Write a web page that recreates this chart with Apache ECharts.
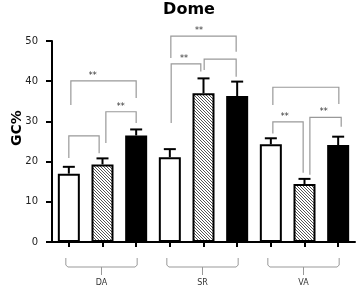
<!DOCTYPE html>
<html>
<head>
<meta charset="utf-8">
<script src="https://cdn.jsdelivr.net/npm/echarts@6/dist/echarts.min.js"></script>
<style>
html, body { margin: 0; padding: 0; background: #fff; }
#chart { width: 358px; height: 289px; }
</style>
</head>
<body>
<div id="chart"></div>
<script>
// data
var groups = ['DA', 'SR', 'VA'];
var categories = ['DA1', 'DA2', 'DA3', 'SR1', 'SR2', 'SR3', 'VA1', 'VA2', 'VA3'];
var means = [17.0, 19.3, 26.5, 21.1, 37.0, 36.3, 24.3, 14.4, 24.1];
var errors = [1.7, 1.5, 1.5, 2.0, 3.7, 3.6, 1.5, 1.3, 2.1];
var groupSpans = [[0, 2], [3, 5], [6, 8]];
// [from, to, top, left end, right end, stars x, stars]
var brackets = [
  [0.06, 2.0, 40.1, 34.1, 35.8, 0.71, '**'],
  [1.1, 2.0, 32.4, 24.6, 29.6, 1.54, '**'],
  [0.0, 0.9, 26.4, 20.9, 22.1, 0, ''],
  [3.03, 4.97, 51.2, 45.8, 47.3, 3.87, '**'],
  [3.04, 3.92, 44.3, 29.6, 42.4, 3.42, '**'],
  [4.02, 4.97, 45.5, 42.8, 41.1, 0, ''],
  [6.06, 8.02, 38.5, 34.1, 34.3, 0, ''],
  [6.06, 6.96, 29.9, 27.0, 17.2, 6.41, '**'],
  [7.16, 8.09, 31.0, 16.7, 28.7, 7.57, '**']
];

var font = 'DejaVu Sans';

// diagonal hatch for the middle bar of each group
var hatch = document.createElement('canvas');
hatch.width = 3;
hatch.height = 3;
var hc = hatch.getContext('2d');
hc.fillStyle = '#fff';
hc.fillRect(0, 0, 3, 3);
hc.strokeStyle = '#555';
hc.lineWidth = 1;
[-3, 0, 3].forEach(function (o) {
  hc.beginPath();
  hc.moveTo(o, 0);
  hc.lineTo(o + 3, 3);
  hc.stroke();
});

function barStyle(k) {
  if (k === 0) return { color: '#fff' };
  if (k === 1) return { color: { image: hatch, repeat: 'repeat' } };
  return { color: '#000' };
}

var chart = echarts.init(document.getElementById('chart'));

var option = {
  animation: false,
  grid: { left: 52, right: 3, top: 41, bottom: 47, outerBoundsMode: 'none' },
  graphic: [
    {
      type: 'text', x: 189, y: 10,
      style: { text: 'Dome', align: 'center', verticalAlign: 'middle', fontSize: 16, fontWeight: 'bold', fontFamily: font, fill: '#000' }
    },
    {
      type: 'text', x: 17, y: 128, rotation: Math.PI / 2,
      style: { text: 'GC%', align: 'center', verticalAlign: 'middle', fontSize: 14, fontWeight: 'bold', fontFamily: font, fill: '#000' }
    }
  ],
  xAxis: {
    type: 'category',
    data: categories,
    axisLine: { lineStyle: { color: '#000', width: 2 } },
    axisTick: { show: true, interval: 0, alignWithLabel: true, length: 5, lineStyle: { color: '#000', width: 2 } },
    axisLabel: { show: false },
    splitLine: { show: false }
  },
  yAxis: {
    type: 'value',
    min: 0,
    max: 50,
    interval: 10,
    axisLine: { show: true, lineStyle: { color: '#000', width: 2 } },
    axisTick: { show: true, length: 6, lineStyle: { color: '#000', width: 2 } },
    axisLabel: { fontSize: 10, color: '#222', margin: 14, fontFamily: font },
    splitLine: { show: false }
  },
  series: [
    {
      type: 'bar',
      barWidth: 22,
      data: means.map(function (v, i) {
        var s = barStyle(i % 3);
        s.borderColor = '#000';
        s.borderWidth = 2;
        return { value: v, itemStyle: s };
      }),
      z: 2
    },
    {
      // error bars, upper side only
      type: 'custom',
      z: 3,
      data: means.map(function (m, i) { return [i, m, m + errors[i]]; }),
      renderItem: function (params, api) {
        var p0 = api.coord([api.value(0), api.value(1)]);
        var p1 = api.coord([api.value(0), api.value(2)]);
        return {
          type: 'group',
          children: [
            { type: 'line', shape: { x1: p0[0], y1: p0[1], x2: p1[0], y2: p1[1] }, style: { stroke: '#000', lineWidth: 2 } },
            { type: 'line', shape: { x1: p1[0] - 6, y1: p1[1], x2: p1[0] + 6, y2: p1[1] }, style: { stroke: '#000', lineWidth: 2 } }
          ]
        };
      }
    },
    {
      // significance brackets
      type: 'custom',
      z: 4,
      clip: false,
      data: brackets.map(function (b) { return [b[0], b[2]]; }),
      renderItem: function (params, api) {
        var b = brackets[params.dataIndex];
        var band = api.size([1, 0])[0];
        var ox = api.coord([0, 0])[0];
        function X(v) { return ox + v * band; }
        var yT = api.coord([0, b[2]])[1];
        var yL = api.coord([0, b[3]])[1];
        var yR = api.coord([0, b[4]])[1];
        var kids = [{
          type: 'polyline',
          shape: { points: [[X(b[0]), yL], [X(b[0]), yT], [X(b[1]), yT], [X(b[1]), yR]] },
          style: { stroke: '#999', lineWidth: 1.2, fill: null }
        }];
        if (b[6]) {
          kids.push({
            type: 'text', x: X(b[5]), y: yT - 1,
            style: { text: b[6], align: 'center', verticalAlign: 'bottom', fontSize: 8, fontFamily: font, fill: '#333' }
          });
        }
        return { type: 'group', children: kids };
      }
    },
    {
      // group braces under the axis
      type: 'custom',
      z: 4,
      clip: false,
      data: groupSpans.map(function (g) { return [g[0], 0]; }),
      renderItem: function (params, api) {
        var g = groupSpans[params.dataIndex];
        var a = api.coord([g[0], 0]);
        var c = api.coord([g[1], 0]);
        var base = a[1];
        var l = a[0] - 3, r = c[0] + 1;
        var top = base + 16, bot = base + 25, mid = (l + r) / 2;
        return {
          type: 'group',
          children: [
            {
              type: 'polyline',
              shape: { points: [[l, top], [l, bot - 2], [l + 2, bot], [r - 2, bot], [r, bot - 2], [r, top]] },
              style: { stroke: '#999', lineWidth: 1, fill: null }
            },
            { type: 'line', shape: { x1: mid, y1: bot, x2: mid, y2: bot + 8 }, style: { stroke: '#999', lineWidth: 1 } },
            {
              type: 'text', x: mid, y: base + 41,
              style: { text: groups[params.dataIndex], align: 'center', verticalAlign: 'middle', fontSize: 8, fontFamily: font, fill: '#333' }
            }
          ]
        };
      }
    }
  ]
};

chart.setOption(option);
</script>
</body>
</html>
